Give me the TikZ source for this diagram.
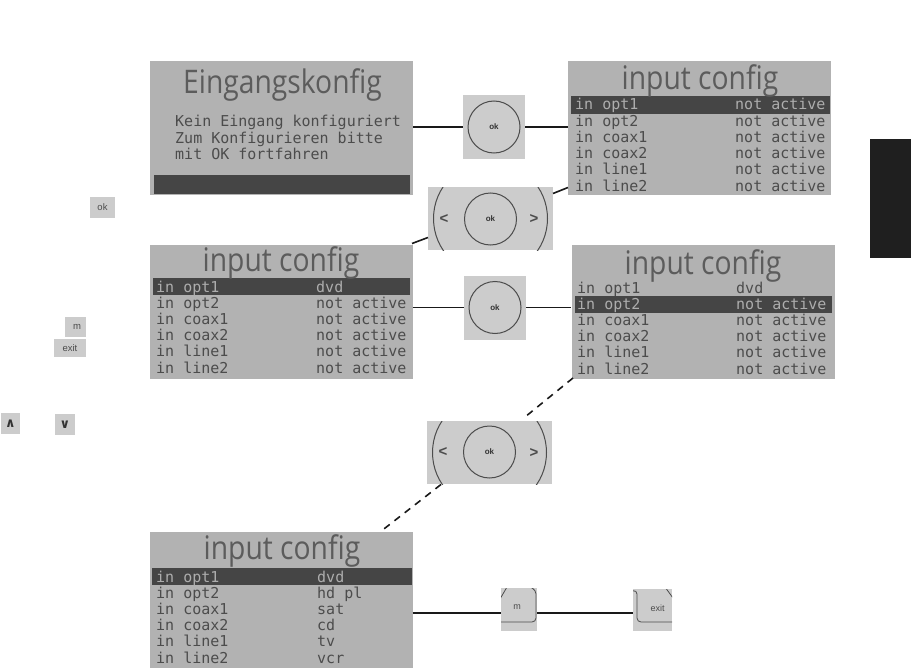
\documentclass[tikz,border=0pt]{standalone}
\usepackage{fontspec}
\setsansfont{Liberation Sans}
\newfontfamily\lcdfont{DejaVu Sans Mono}
\newfontfamily\lcdtitlefont[FakeStretch=0.87]{Open Sans}
\newfontfamily\arrowkeyfont{DejaVu Sans}
\definecolor{lcdbg}{gray}{0.70}
\definecolor{lcdink}{gray}{0.30}
\definecolor{lcdtitleink}{gray}{0.36}
\definecolor{lcdbar}{gray}{0.27}
\definecolor{lcdsel}{gray}{0.68}
\definecolor{keybg}{gray}{0.80}
\definecolor{keyink}{gray}{0.30}
\begin{document}
\begin{tikzpicture}[x=1pt, y=-1pt,
        lcd/.style={fill=lcdbg, minimum width=263pt, minimum height=134pt, inner sep=0pt},
        lcdbarnode/.style={fill=lcdbar, minimum height=17pt, inner sep=0pt},
        lcdtext/.style={anchor=base west, inner sep=0pt, text=lcdink, font=\lcdfont\fontsize{15}{15}\selectfont},
        lcdseltext/.style={lcdtext, text=lcdsel},
        lcdtitle/.style={anchor=base, inner sep=0pt, text=lcdtitleink, font=\lcdtitlefont\fontsize{32.5}{32.5}\selectfont},
        keynode/.style={fill=keybg, inner sep=0pt, text=keyink, font=\sffamily\fontsize{9}{9}\selectfont},
        keylabel/.style={inner sep=0pt, text=keyink, font=\sffamily\fontsize{9}{9}\selectfont},
        okkey/.style={keynode, minimum width=62pt, minimum height=64pt},
        navkey/.style={keynode, minimum width=125pt, minimum height=63pt,
            path picture={\draw[line width=1pt, gray!60!black] (path picture bounding box.center) circle[radius=57pt];}},
        okring/.style={circle, draw=gray!60!black, line width=1pt, minimum size=52pt, inner sep=0pt, text=black!80, font=\sffamily\bfseries\fontsize{8}{8}\selectfont},
        navsign/.style={inner sep=0pt, text=black!70, font=\sffamily\bfseries\fontsize{15}{15}\selectfont},
        smallkey/.style={keynode, font=\sffamily\fontsize{9.5}{9.5}\selectfont},
        arrowkey/.style={keynode, text=black!80, font=\arrowkeyfont\bfseries\fontsize{13}{13}\selectfont},
        keyline/.style={gray!60!black, line width=0.8pt, rounded corners=4pt},
        wire/.style={line width=1.6pt, black!90},
        dashwire/.style={wire, dash pattern=on 7pt off 6pt}]
    \useasboundingbox (0,0) rectangle (911,669);

    % screens
    \node[lcd] (lcdA) at (281.5,128) {};
    \node[lcd] (lcdB) at (699.5,128) {};
    \node[lcd] (lcdC) at (281,311.5) {};
    \node[lcd] (lcdD) at (703,312) {};
    \node[lcd, minimum height=136pt] (lcdE) at (281.5,600) {};

    % screen A
    \node[lcdbarnode, minimum width=256pt, minimum height=19pt] (barA) at (282,184.5) {};
    \node[lcdtitle] (titleA) at (282.5,94) {Eingangskonfig};
    \node[lcdtext] (textA1) at (175,127) {Kein Eingang konfiguriert};
    \node[lcdtext] (textA2) at (175,143) {Zum Konfigurieren bitte};
    \node[lcdtext] (textA3) at (175,159) {mit OK fortfahren};

    % screen B
    \node[lcdbarnode, minimum width=259pt] (barB) at (700.5,105) {};
    \node[lcdtitle] (titleB) at (700,90) {input config};
    \node[lcdseltext] (inB1) at (575,110) {in opt1};
    \node[lcdseltext] (valB1) at (735,110) {not active};
    \foreach \a [count=\i from 2] in {in opt2,in coax1,in coax2,in line1,in line2}{
        \node[lcdtext] (inB\i) at (575,{110+16.2*(\i-1)}) {\a};
        \node[lcdtext] (valB\i) at (735,{110+16.2*(\i-1)}) {not active};
    }

    % screen C
    \node[lcdbarnode, minimum width=257pt] (barC) at (281.5,286) {};
    \node[lcdtitle] (titleC) at (281,271) {input config};
    \node[lcdseltext] (inC1) at (156,292) {in opt1};
    \node[lcdseltext] (valC1) at (316,292) {dvd};
    \foreach \a [count=\i from 2] in {in opt2,in coax1,in coax2,in line1,in line2}{
        \node[lcdtext] (inC\i) at (156,{292+16.2*(\i-1)}) {\a};
        \node[lcdtext] (valC\i) at (316,{292+16.2*(\i-1)}) {not active};
    }

    % screen D
    \node[lcdtitle] (titleD) at (703,274) {input config};
    \node[lcdtext] (inD1) at (577,293) {in opt1};
    \node[lcdtext] (valD1) at (736,293) {dvd};
    \node[lcdbarnode, minimum width=257pt] (barD) at (703,304) {};
    \node[lcdseltext] (inD2) at (577,309.2) {in opt2};
    \node[lcdseltext] (valD2) at (736,309.2) {not active};
    \foreach \a [count=\i from 3] in {in coax1,in coax2,in line1,in line2}{
        \node[lcdtext] (inD\i) at (577,{293+16.2*(\i-1)}) {\a};
        \node[lcdtext] (valD\i) at (736,{293+16.2*(\i-1)}) {not active};
    }

    % screen E
    \node[lcdbarnode, minimum width=260pt] (barE) at (282,576.5) {};
    \node[lcdtitle] (titleE) at (282,559) {input config};
    \node[lcdseltext] (inE1) at (156,582) {in opt1};
    \node[lcdseltext] (valE1) at (317,582) {dvd};
    \foreach \a/\b [count=\i from 2] in {in opt2/hd pl,in coax1/sat,in coax2/cd,in line1/tv,in line2/vcr}{
        \node[lcdtext] (inE\i) at (156,{582+16.2*(\i-1)}) {\a};
        \node[lcdtext] (valE\i) at (317,{582+16.2*(\i-1)}) {\b};
    }

    % keys
    \node[okkey] (okA) at (494,127) {};
    \node[okring] (ringA) at (494,127) {ok};
    \node[navkey] (navA) at (490.5,218.5) {};
    \node[okring] (ringB) at (490.5,219) {ok};
    \node[navsign] (leftA) at (444,219) {<};
    \node[navsign] (rightA) at (534,219) {>};
    \node[okkey] (okB) at (495,307.5) {};
    \node[okring] (ringC) at (495,307.5) {ok};
    \node[navkey] (navB) at (489.5,452.5) {};
    \node[okring] (ringD) at (489.5,452) {ok};
    \node[navsign] (leftB) at (443,452) {<};
    \node[navsign] (rightB) at (534,453) {>};
    \node[keynode, minimum width=36pt, minimum height=43pt,
        path picture={
            \draw[keyline] (-12,-22.5) -- (-19,-10.5);
            \draw[keyline] (11,-22.5) -- (17,-19.5) -- (17,12.5) -- (-19,12.5);
        }] (keyM) at (519,609.5) {};
    \node[keylabel] (labelM) at (517,607) {m};
    \node[keynode, minimum width=39pt, minimum height=42pt,
        path picture={
            \draw[keyline] (-20.5,-19) -- (-15.5,-20) -- (-15.5,12) -- (20.5,12);
            \draw[keyline] (12.5,-23) -- (20.5,-12);
        }] (keyExit) at (652.5,610) {};
    \node[keylabel] (labelExit) at (657.5,608) {exit};

    % connectors
    \draw[wire] (lcdA.east |- okA.west) -- (okA.west);
    \draw[wire] (okA.east) -- (lcdB.west |- okA.east);
    \draw[wire] (lcdC.east |- okB.west) -- (okB.west);
    \draw[wire] (okB.east) -- (lcdD.west |- okB.east);
    \coordinate (navAinC) at (428,237.5);
    \coordinate (navAoutB) at (553,193.5);
    \coordinate (lcdBin) at (568,187.5);
    \coordinate (lcdCout) at (412,243.5);
    \draw[wire] (lcdCout) -- (navAinC);
    \draw[wire] (navAoutB) -- (lcdBin);
    \coordinate (lcdDout) at (573,378);
    \coordinate (navBinD) at (525,417);
    \coordinate (navBoutE) at (441,484.5);
    \coordinate (lcdEin) at (380,532);
    \draw[dashwire] (lcdDout) -- (navBinD);
    \draw[dashwire] (navBoutE) -- (lcdEin);
    \coordinate (lcdEout) at (412.5,613);
    \coordinate (keyMin) at (501,613);
    \coordinate (keyMout) at (537,613);
    \coordinate (keyExitin) at (633,613);
    \draw[wire] (lcdEout) -- (keyMin);
    \draw[wire] (keyMout) -- (keyExitin);

    % side tab
    \node[fill=black!88, minimum width=41pt, minimum height=119pt, inner sep=0pt] (tab) at (890.5,198.5) {};

    % key legend
    \node[smallkey, minimum width=25pt, minimum height=21pt] (legOk) at (102.5,207.5) {ok};
    \node[smallkey, minimum width=21pt, minimum height=20pt] (legM) at (75.5,327) {\hspace{3pt}m};
    \node[smallkey, minimum width=32pt, minimum height=18pt] (legExit) at (70,348) {exit};
    \node[arrowkey, minimum width=19pt, minimum height=21pt] (legUp) at (10.5,423.5) {∧};
    \node[arrowkey, minimum width=20pt, minimum height=21pt] (legDown) at (65,424.5) {∨};
\end{tikzpicture}
\end{document}
